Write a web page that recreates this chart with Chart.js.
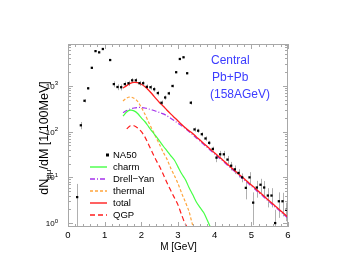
<!DOCTYPE html>
<html>
<head>
<meta charset="utf-8">
<script src="https://cdn.jsdelivr.net/npm/chart.js@4.4.1/dist/chart.umd.min.js"></script>
<style>
  html, body { margin: 0; padding: 0; background: #fff; }
  canvas { display: block; }
</style>
</head>
<body>
<canvas id="dimuon" width="346" height="267"></canvas>
<script>
// NA50 data points (mass in GeV, counts per 100 MeV, error)
const na50Mass = [0.25, 0.35, 0.45, 0.55, 0.65, 0.75, 0.85, 0.95,
    1.15, 1.25, 1.35, 1.45, 1.55, 1.65, 1.75, 1.85, 1.95, 2.05,
    2.15, 2.25, 2.35, 2.45, 2.55, 2.65, 2.75, 2.85, 2.95, 3.05,
    3.15, 3.25, 3.35, 3.45, 3.55, 3.65, 3.75, 3.85, 3.95, 4.05,
    4.15, 4.25, 4.35, 4.45, 4.55, 4.65, 4.75, 4.85, 4.95, 5.05,
    5.15, 5.25, 5.35, 5.45, 5.55, 5.65, 5.75, 5.85, 5.95];
const na50Value = [3.7, 138, 475, 890, 2500, 5800, 5450, 6450,
    3700, 1100, 950, 940, 1100, 1150, 1330, 1330, 1150, 1150,
    960, 940, 850, 700, 430, 560, 690, 1000, 2000, 3900,
    4250, 1900, 430, 112, 105, 88, 71, 57, 42, 27,
    32, 32, 24.5, 18, 15, 12.5, 10, 5.9, 10, 2.8,
    6, 6.9, 6, 4, 4, 1, 3, 3, 1.95];
const na50Error = [3.5, 25, 40, 50, 80, 150, 150, 150,
    100, 160, 140, 140, 150, 150, 160, 160, 140, 140,
    120, 110, 100, 80, 50, 60, 60, 70, 80, 100,
    100, 80, 40, 12, 11, 9, 8, 6, 5, 5.5,
    6, 6, 5, 3.8, 3.2, 2.6, 2.2, 2.6, 3, 1.9,
    2.4, 2.4, 2.3, 1.8, 1.8, 0.95, 1.7, 1.6, 0.85];

// model curves on a common mass grid starting at 1.5 GeV
const massGrid = [1.5, 1.6, 1.7, 1.8, 1.9, 2.0, 2.1, 2.2, 2.3, 2.4, 2.5, 2.6, 2.7, 2.8, 2.9,
    3.0, 3.1, 3.2, 3.3, 3.4, 3.5, 3.6, 3.7, 3.8, 3.9, 4.0, 4.1, 4.2, 4.3, 4.4,
    4.5, 4.6, 4.7, 4.8, 4.9, 5.0, 5.1, 5.2, 5.3, 5.4, 5.5, 5.6, 5.7, 5.8, 5.9, 6.0];
const charm = [218, 270, 295, 285, 250, 200, 165, 128, 100, 80, 62, 48, 38, 30, 24,
    17, 12, 9, 6, 4.2, 2.9, 2.2, 1.7, 1.15, 0.75];
const drellYan = [262, 290, 315, 330, 338, 338, 330, 315, 298, 280, 262, 245, 222, 197, 174,
    153, 134, 117, 101, 86, 73, 62, 52.7, 44.8, 38.2, 32.5, 27.6, 23.5, 20, 17,
    14.4, 12.3, 10.4, 8.9, 7.6, 6.45, 5.5, 4.65, 4.0, 3.37, 2.87, 2.44, 2.08, 1.77, 1.5, 1.28];
const thermal = [468, 545, 575, 540, 460, 340, 240, 160, 110, 75, 52, 35, 25, 16, 11,
    7.3, 4.5, 2.9, 1.8, 0.9, 0.55];
const total = [900, 1020, 1140, 1200, 1180, 1090, 960, 810, 660, 530, 430, 360, 295, 245, 205,
    172, 143, 122, 105, 91, 77, 65.5, 55.5, 47.2, 40.2, 34.2, 29.1, 24.8, 21.1, 17.9,
    15.2, 12.9, 11, 9.4, 8, 6.8, 5.8, 4.9, 4.2, 3.55, 3.02, 2.57, 2.19, 1.86, 1.58, 1.35];
const qgp = [null, 115, 135, 135, 120, 100, 76, 52, 35, 24, 17, 11.5, 7.6, 5.2, 3.6,
    2.5, 1.5, 0.95, 0.7];

const xTicks = [0, 1, 2, 3, 4, 5, 6];
const yTicks = [1, 10, 100, 1000];
const legendNames = ['NA50', 'charm', 'Drell\u2212Yan', 'thermal', 'total', 'QGP'];

const curve = (vals) => vals
    .map((v, i) => ({ x: massGrid[i], y: v }))
    .filter(p => p.y !== null);

const FONT = '"Liberation Sans", Arial, sans-serif';
const GREEN = 'rgb(70,255,70)';
const PURPLE = 'rgb(165,50,235)';
const ORANGE = 'rgb(255,165,60)';
const RED = 'rgb(255,30,30)';
const FRAME = '#a8a8a8';

// legend samples: colour and dash for each curve
const legendColors = [null, GREEN, PURPLE, ORANGE, RED, RED];
const legendDashes = [null, [], [5, 2, 1, 2], [3, 2], [], [5, 3]];

// error bars, frame, ticks, labels and legend
const decor = {
    id: 'decor',
    beforeDatasetsDraw(chart) {
        const { ctx, chartArea: a } = chart;
        const xs = chart.scales.x, ys = chart.scales.y;
        ctx.save();
        ctx.beginPath();
        ctx.rect(a.left, a.top, a.right - a.left, a.bottom - a.top);
        ctx.clip();
        ctx.strokeStyle = '#b0b0b0';
        ctx.lineWidth = 1;
        na50Mass.forEach((m, i) => {
            const px = Math.round(xs.getPixelForValue(m)) + 0.5;
            const lo = Math.max(na50Value[i] - na50Error[i], 0.01);
            const hi = na50Value[i] + na50Error[i];
            ctx.beginPath();
            ctx.moveTo(px, ys.getPixelForValue(lo));
            ctx.lineTo(px, ys.getPixelForValue(hi));
            ctx.stroke();
        });
        ctx.restore();
    },
    afterDraw(chart) {
        const { ctx, chartArea: a } = chart;
        const xs = chart.scales.x, ys = chart.scales.y;
        ctx.save();
        ctx.setLineDash([]);
        ctx.strokeStyle = FRAME;
        ctx.lineWidth = 1;
        ctx.strokeRect(a.left + 0.5, a.top + 0.5, a.right - a.left - 1, a.bottom - a.top - 1);

        // x ticks every 0.2 GeV, top and bottom
        ctx.beginPath();
        for (let k = 0; k <= 30; k++) {
            const px = Math.round(xs.getPixelForValue(k * 0.2)) + 0.5;
            const len = k % 5 === 0 ? 5 : 3;
            ctx.moveTo(px, a.bottom); ctx.lineTo(px, a.bottom - len);
            ctx.moveTo(px, a.top); ctx.lineTo(px, a.top + len);
        }
        // y ticks per decade, left and right
        for (let d = 0; d <= 3; d++) {
            for (let k = 1; k <= 9; k++) {
                const v = k * Math.pow(10, d);
                if (v > ys.max || v < ys.min) continue;
                const py = Math.round(ys.getPixelForValue(v)) + 0.5;
                const len = k === 1 ? 5 : 3;
                ctx.moveTo(a.left, py); ctx.lineTo(a.left + len, py);
                ctx.moveTo(a.right, py); ctx.lineTo(a.right - len, py);
            }
        }
        ctx.stroke();

        // tick labels
        ctx.fillStyle = '#000';
        ctx.font = '9.5px ' + FONT;
        ctx.textAlign = 'center';
        ctx.textBaseline = 'middle';
        xTicks.forEach(t => ctx.fillText(String(t), xs.getPixelForValue(t), a.bottom + 8));

        yTicks.forEach(t => {
            const py = ys.getPixelForValue(t);
            const exp = String(Math.round(Math.log10(t)));
            ctx.font = '6px ' + FONT;
            ctx.textAlign = 'right';
            ctx.textBaseline = 'alphabetic';
            ctx.fillText(exp, a.left - 10, py - 0.5);
            const ew = ctx.measureText(exp).width;
            ctx.font = '8px ' + FONT;
            ctx.fillText('10', a.left - 10 - ew, py + 3);
        });

        // axis titles
        ctx.font = '10px ' + FONT;
        ctx.textAlign = 'center';
        ctx.textBaseline = 'middle';
        ctx.fillText('M [GeV]', (a.left + a.right) / 2 + 0.5, a.bottom + 20);

        ctx.save();
        ctx.translate(48, 138);
        ctx.rotate(-Math.PI / 2);
        ctx.textBaseline = 'alphabetic';
        ctx.textAlign = 'left';
        const big = '12.5px ' + FONT, small = '8px ' + FONT;
        ctx.font = big;
        const w1 = ctx.measureText('dN').width;
        const w3 = ctx.measureText('/dM [1/100MeV]').width;
        ctx.font = small;
        const w2 = ctx.measureText('\u03bc\u03bc').width;
        let x0 = -(w1 + w2 + w3) / 2;
        ctx.font = big; ctx.fillText('dN', x0, 0); x0 += w1;
        ctx.font = small; ctx.fillText('\u03bc\u03bc', x0, 3); x0 += w2;
        ctx.font = big; ctx.fillText('/dM [1/100MeV]', x0, 0);
        ctx.restore();

        // annotation
        ctx.fillStyle = 'rgb(60,60,255)';
        ctx.font = '12px ' + FONT;
        ctx.textAlign = 'left';
        ctx.textBaseline = 'middle';
        ctx.fillText('Central', 211, 61);
        ctx.fillText('Pb+Pb', 212, 78);
        ctx.fillText('(158AGeV)', 210, 95);

        // legend
        ctx.font = '9.5px ' + FONT;
        legendNames.forEach((name, i) => {
            const y = 155 + i * 12;
            if (i === 0) {
                ctx.fillStyle = '#000';
                ctx.fillRect(106, y - 1.5, 3, 3);
            } else {
                ctx.save();
                ctx.strokeStyle = legendColors[i];
                ctx.lineWidth = 1.4;
                ctx.setLineDash(legendDashes[i]);
                ctx.beginPath();
                ctx.moveTo(90, y);
                ctx.lineTo(107, y);
                ctx.stroke();
                ctx.restore();
            }
            ctx.fillStyle = '#000';
            ctx.fillText(name, 113, y);
        });
        ctx.restore();
    }
};

const ctx = document.getElementById('dimuon').getContext('2d');
new Chart(ctx, {
    type: 'scatter',
    data: {
        datasets: [
            {
                label: 'NA50',
                data: na50Mass.map((m, i) => ({ x: m, y: na50Value[i] })),
                backgroundColor: '#000',
                borderColor: '#000',
                pointStyle: 'rect',
                pointRadius: 1.6,
                borderWidth: 0,
                order: 0
            },
            {
                label: 'charm', type: 'line', data: curve(charm),
                borderColor: GREEN, borderWidth: 1.2, pointRadius: 0, order: 2
            },
            {
                label: 'Drell-Yan', type: 'line', data: curve(drellYan),
                borderColor: PURPLE, borderWidth: 1.2, borderDash: [5, 2, 1, 2], pointRadius: 0, order: 2
            },
            {
                label: 'thermal', type: 'line', data: curve(thermal),
                borderColor: ORANGE, borderWidth: 1.2, borderDash: [3, 2], pointRadius: 0, order: 2
            },
            {
                label: 'total', type: 'line', data: curve(total),
                borderColor: RED, borderWidth: 1.3, pointRadius: 0, order: 1
            },
            {
                label: 'QGP', type: 'line', data: curve(qgp),
                borderColor: RED, borderWidth: 1.2, borderDash: [5, 3], pointRadius: 0, order: 2
            }
        ]
    },
    options: {
        responsive: false,
        devicePixelRatio: 1,
        animation: false,
        layout: { padding: { left: 68, right: 58, top: 44, bottom: 40 } },
        elements: { line: { tension: 0.3, fill: false } },
        scales: {
            x: { type: 'linear', min: 0, max: 6, display: false },
            y: { type: 'logarithmic', min: 0.82, max: 8300, display: false }
        },
        plugins: {
            legend: { display: false },
            tooltip: { enabled: false }
        }
    },
    plugins: [decor]
});
</script>
</body>
</html>
